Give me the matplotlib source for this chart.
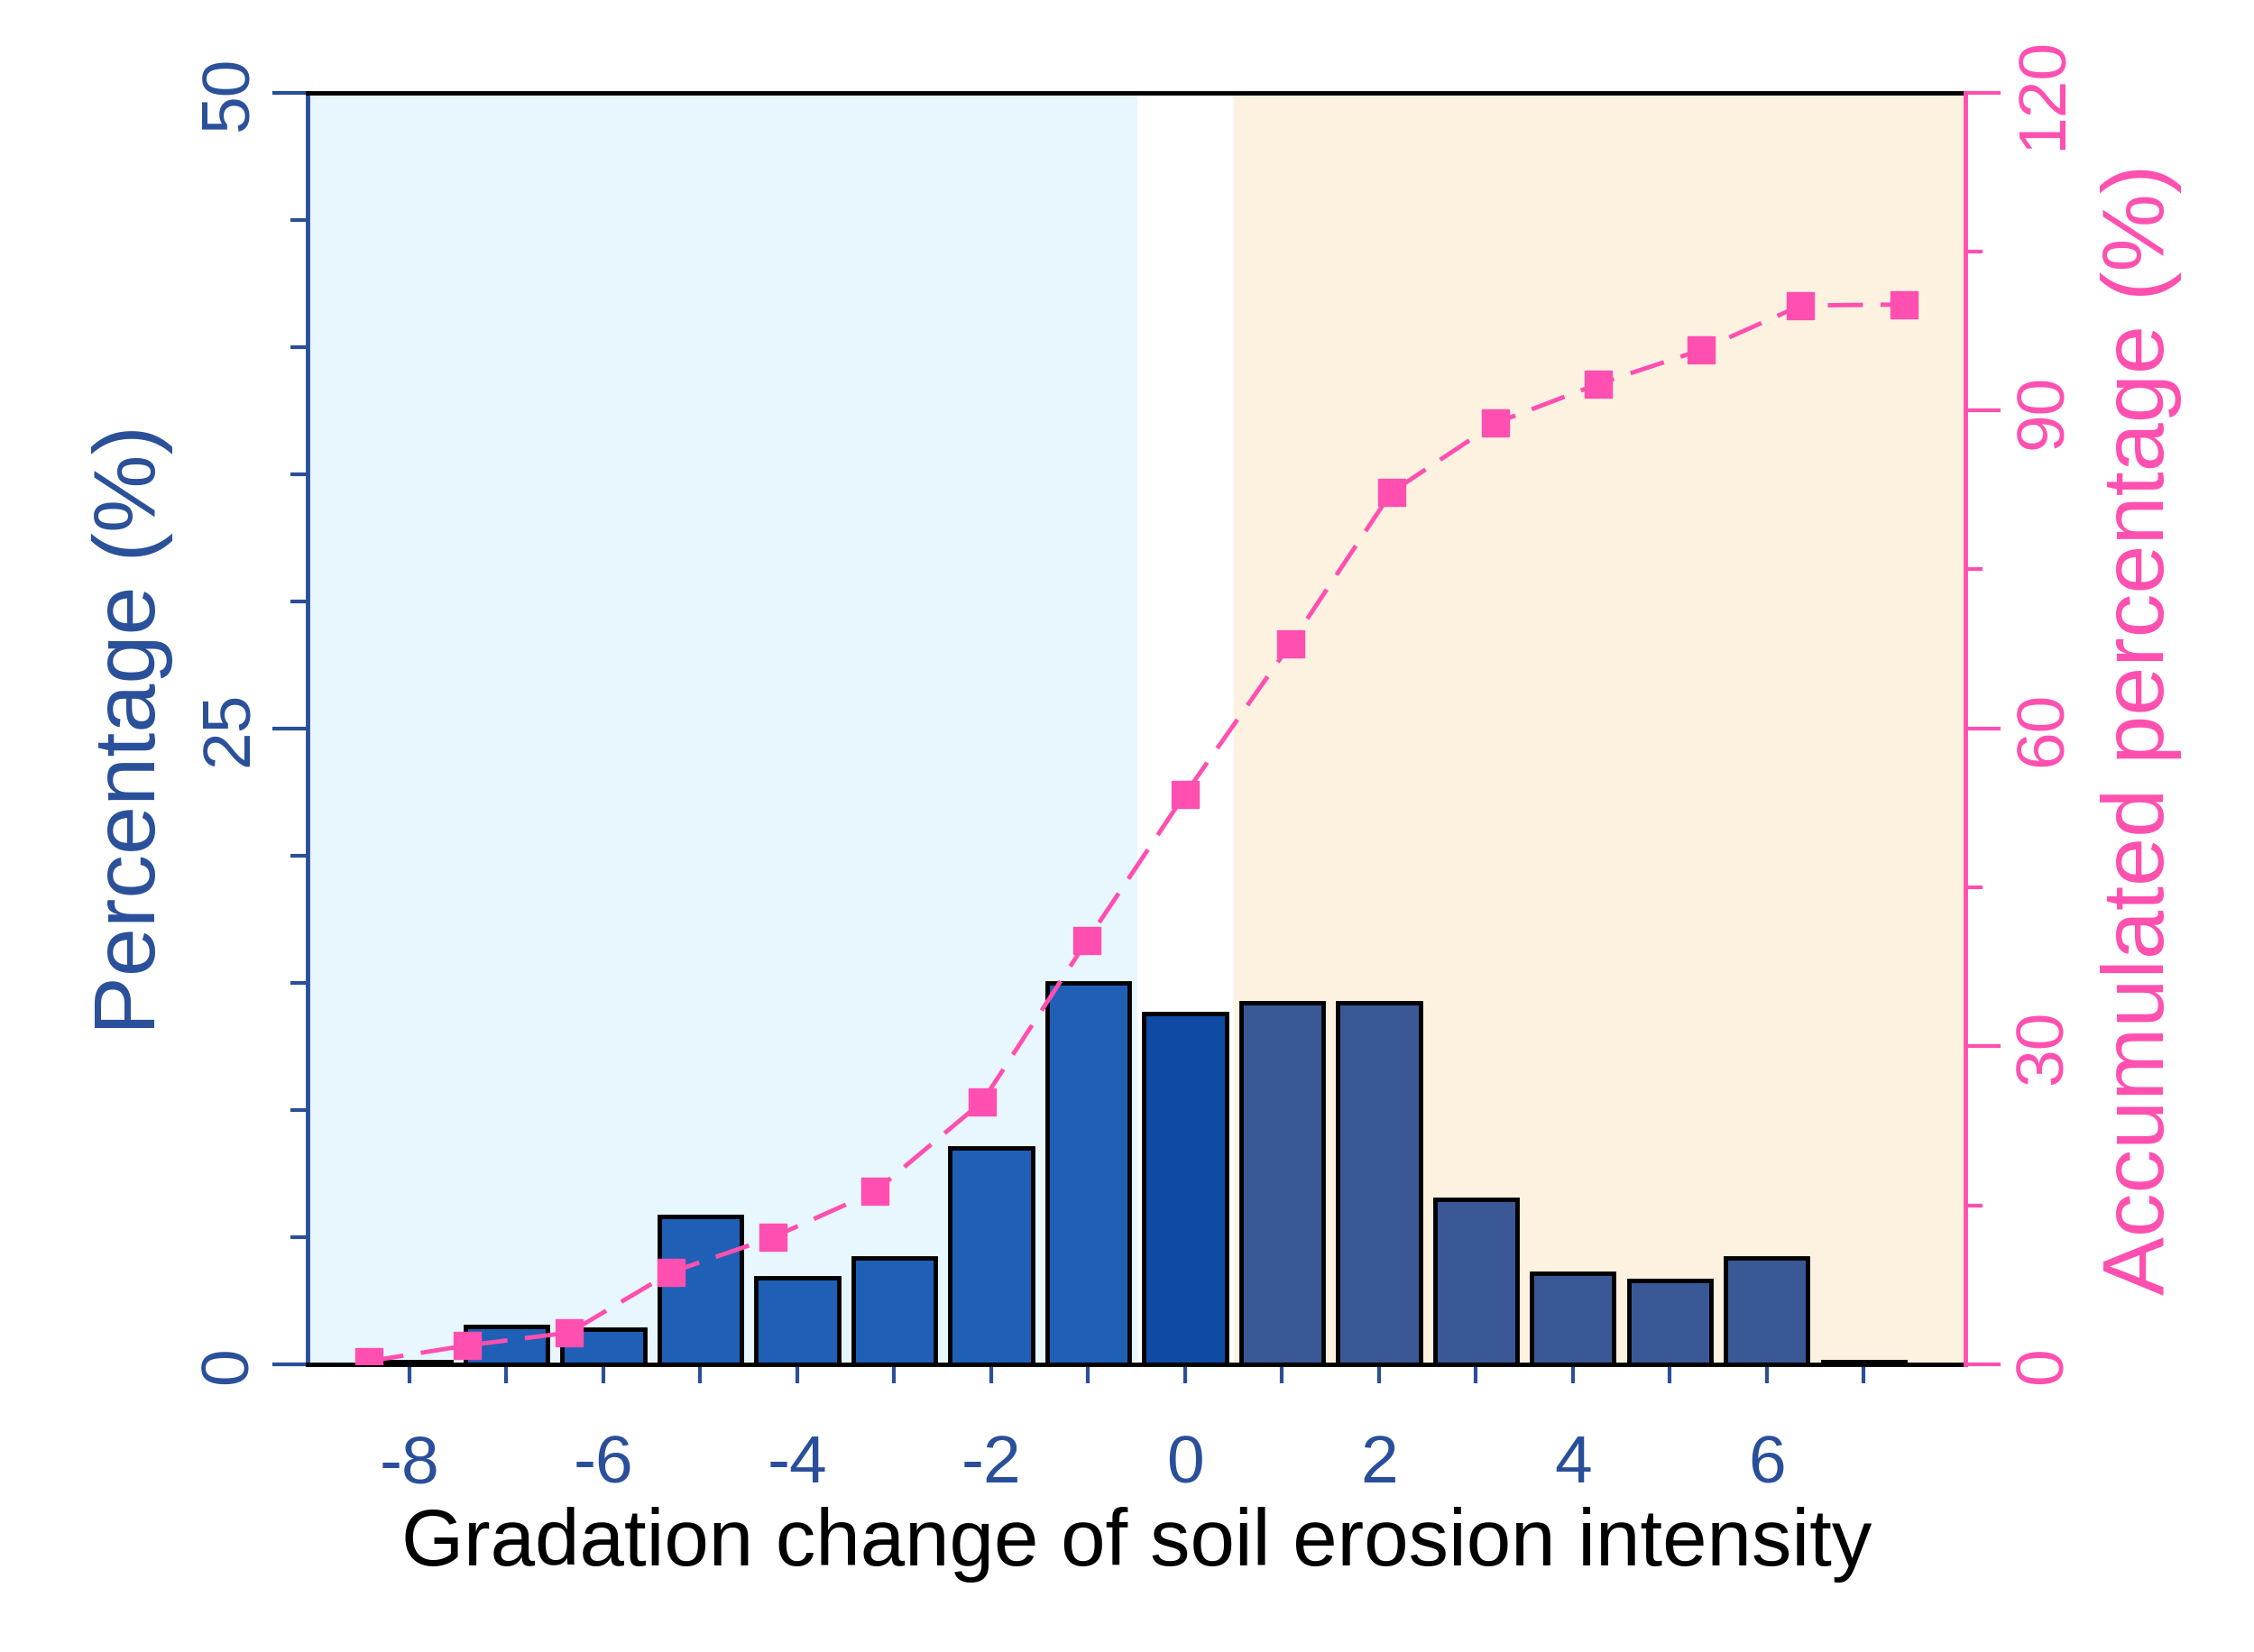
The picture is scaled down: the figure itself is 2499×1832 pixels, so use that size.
import matplotlib
matplotlib.use("Agg")
import matplotlib.pyplot as plt
plt.rcParams["font.family"] = "Liberation Sans"

grad = [-8,-7,-6,-5,-4,-3,-2,-1,0,1,2,3,4,5,6,7]
pct = [0.1,1.5,1.4,5.8,3.4,4.2,8.5,15.0,13.8,14.2,14.2,6.5,3.6,3.3,4.2,0.1]
cum_x = [-8.42,-7.4,-6.35,-5.3,-4.25,-3.2,-2.09,-1.01,0,1.09,2.13,3.2,4.26,5.32,6.35,7.42]
cum = [0.3,1.8,3.0,8.7,12.0,16.3,24.8,40.0,53.8,68.0,82.3,88.8,92.5,95.7,99.9,100.0]

blue = "#2a4f9a"; pink = "#ff4fb0"
colors = ["#1f5fb5" if g < 0 else ("#0f4aa5" if g == 0 else "#3a5896") for g in grad]

fig = plt.figure(figsize=(24.99,18.33), dpi=100)
ax = fig.add_axes([0.1365,0.174,0.7355,0.7695])
ax.axvspan(-9.05,-0.5,color="#e8f6fd",zorder=0)
ax.axvspan(0.5,8.05,color="#fdf2e0",zorder=0)
ax.bar(grad,pct,width=0.85,color=colors,edgecolor="black",linewidth=3.5,zorder=2)
ax.set_xlim(-9.05,8.05); ax.set_ylim(0,50)
ax.set_yticks([0,25,50]); ax.set_yticks(range(0,51,5),minor=True)
ax.set_xticks(range(-8,8)); ax.set_xticklabels([str(g) if g%2==0 else "" for g in range(-8,8)])
ax.tick_params(axis="y",colors=blue,labelsize=54,length=28,width=3,labelrotation=90,pad=10)
ax.tick_params(axis="y",which="minor",colors=blue,length=14,width=3)
ax.tick_params(axis="x",colors=blue,labelsize=54,length=15,width=3,pad=40)
for t in ax.get_yticklabels(): t.set_va("center")
ax.spines["left"].set_color(blue); ax.spines["left"].set_linewidth(3.5)
ax.spines["right"].set_visible(False)
ax.spines["top"].set_linewidth(3.5); ax.spines["bottom"].set_linewidth(3.5)
ax.set_ylabel("Percentage (%)",color=blue,fontsize=70,labelpad=20)
ax.set_xlabel("Gradation change of soil erosion intensity",fontsize=64,labelpad=8)

ax2 = ax.twinx()
ax2.plot(cum_x,cum,color=pink,linestyle=(0,(8,4)),linewidth=3.5,marker="s",markersize=22,zorder=3)
ax2.set_ylim(0,120); ax2.set_yticks(range(0,121,30)); ax2.set_yticks(range(0,121,15),minor=True)
ax2.tick_params(axis="y",colors=pink,labelsize=54,length=28,width=3,labelrotation=90,pad=10)
ax2.tick_params(axis="y",which="minor",colors=pink,length=14,width=3)
for t in ax2.get_yticklabels(): t.set_va("center")
for s in ["left","top","bottom"]: ax2.spines[s].set_visible(False)
ax2.spines["right"].set_color(pink); ax2.spines["right"].set_linewidth(3.5)
ax2.set_ylabel("Accumulated percentage (%)",color=pink,fontsize=70,labelpad=20)
fig.savefig("out.png",dpi=100)
